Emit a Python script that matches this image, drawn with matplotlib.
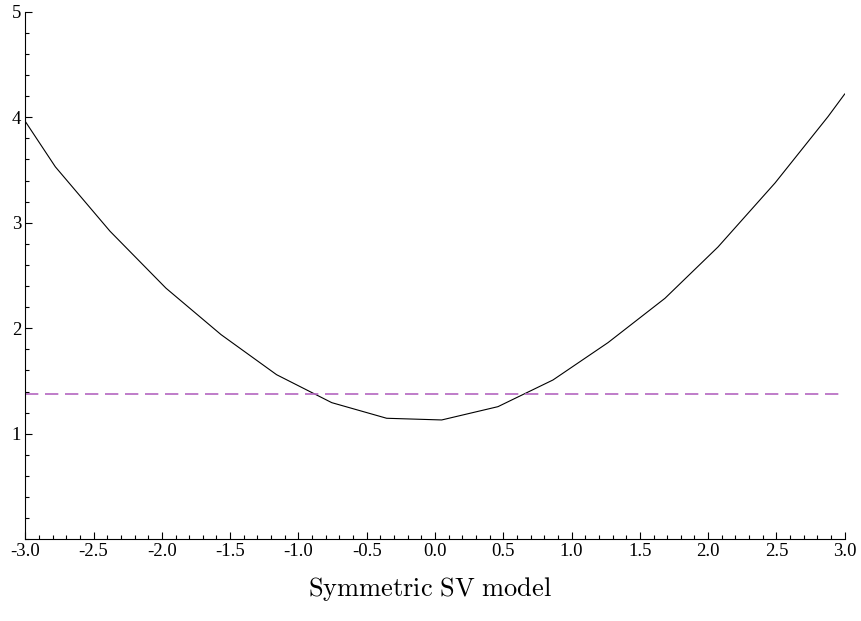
import matplotlib
matplotlib.use("Agg")
import matplotlib.pyplot as plt
from matplotlib.ticker import MultipleLocator, FixedLocator

# Valores (vértices da curva)
x_vals = [-3.0, -2.78, -2.38, -1.97, -1.567, -1.16, -0.756, -0.354, 0.049,
          0.461, 0.864, 1.267, 1.684, 2.072, 2.49, 2.878, 3.0]
y_vals = [3.96, 3.53, 2.92, 2.38, 1.94, 1.56, 1.295, 1.147, 1.131,
          1.257, 1.51, 1.864, 2.284, 2.77, 3.377, 4.006, 4.22]
ref_level = 1.377

x_ticks = [-3.0, -2.5, -2.0, -1.5, -1.0, -0.5, 0.0, 0.5, 1.0, 1.5, 2.0, 2.5, 3.0]
y_ticks = [1, 2, 3, 4, 5]
title = "Symmetric SV model"

plt.rcParams["font.family"] = ["Liberation Serif", "DejaVu Serif"]
plt.rcParams["axes.unicode_minus"] = False
plt.rcParams["mathtext.fontset"] = "cm"

W, H = 861, 621
fig = plt.figure(figsize=(W / 100, H / 100), dpi=100)
ax = fig.add_axes([25.3 / W, 1 - 539.3 / H, (844.7 - 25.3) / W, (539.3 - 11.7) / H])

ax.plot(x_vals, y_vals, color="black", lw=0.8)
ax.axhline(ref_level, color="#b466c0", lw=1.2, ls=(0, (8, 4)))

ax.set_xlim(-3, 3)
ax.set_ylim(0, 5)

for side in ("top", "right"):
    ax.spines[side].set_visible(False)
for side in ("left", "bottom"):
    ax.spines[side].set_linewidth(0.8)

ax.xaxis.set_major_locator(FixedLocator(x_ticks))
ax.xaxis.set_minor_locator(MultipleLocator(0.1))
ax.yaxis.set_major_locator(FixedLocator(y_ticks))
ax.yaxis.set_minor_locator(MultipleLocator(0.2))
ax.set_xticklabels([f"{v:.1f}" for v in x_ticks])
ax.set_yticklabels([str(v) for v in y_ticks])

ax.tick_params(which="major", direction="in", length=5, width=0.8, labelsize=13.5, pad=3)
ax.tick_params(which="minor", direction="in", length=3, width=0.8)

fig.text(430 / W, 1 - 589 / H, r"$\mathrm{" + title.replace(" ", r"\ ") + "}$",
         ha="center", va="center", fontsize=19)

fig.savefig("out.png", dpi=100)
